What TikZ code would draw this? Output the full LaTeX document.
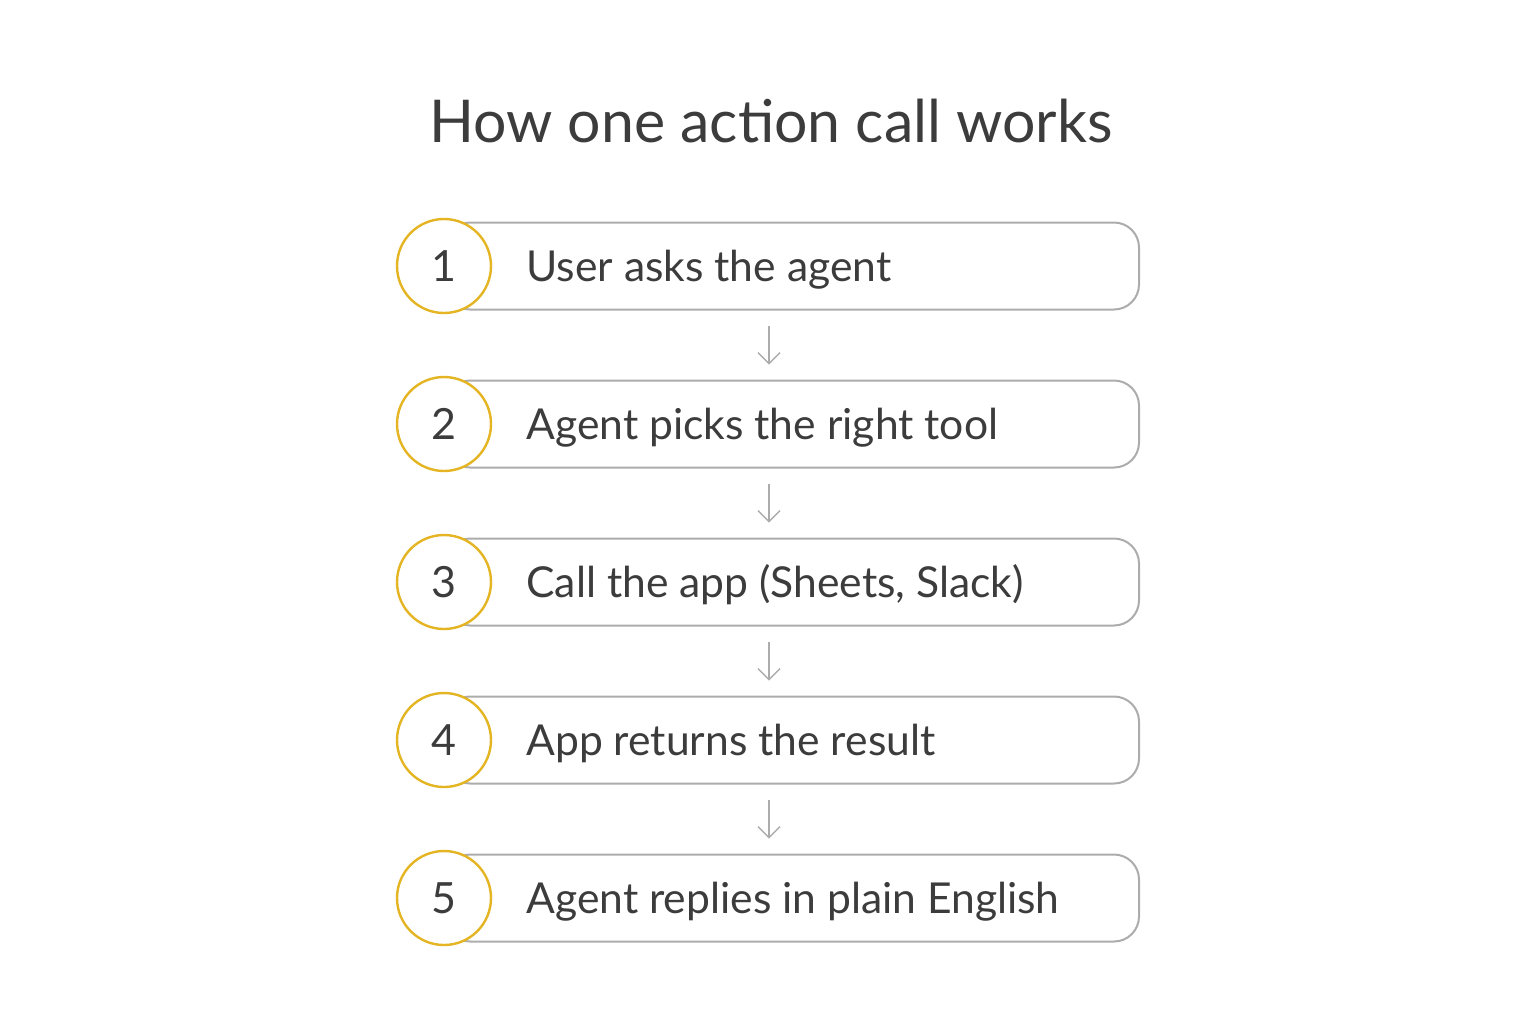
\documentclass[tikz,border=0pt]{standalone}
\usepackage{fontspec}
\setmainfont{Lato}
\usetikzlibrary{arrows.meta, positioning, calc}
\definecolor{StepGold}{RGB}{228,180,34}
\definecolor{StepGrey}{RGB}{172,172,172}
\definecolor{StepText}{RGB}{60,60,60}

\begin{document}
\begin{tikzpicture}[x=0.5pt, y=-0.5pt,
    >={Straight Barb[length=5.5pt, width=11pt]},
    stepbox/.style={draw=StepGrey, line width=1pt, rounded corners=12.5pt, fill=white,
        anchor=west, minimum height=43.5pt, minimum width=347pt},
    steplabel/.style={anchor=base west, inner sep=0pt, font=\fontsize{21.3}{24}\selectfont, text=StepText},
    stepnum/.style={draw=StepGold, line width=1.2pt, circle, fill=white, minimum size=47pt,
        inner sep=0pt, font=\fontsize{21.5}{24}\selectfont, text=StepText},
    steparrow/.style={->, draw=StepGrey, line width=0.7pt, shorten <=7.5pt, shorten >=7.5pt}]
\useasboundingbox (0,0) rectangle (1536,1024);
\node[anchor=base, font=\fontsize{29.5}{34}\selectfont, text=StepText] (title) at (771,142) {How one action call works};
\foreach \x/\txt in {1/User asks the agent, 2/Agent picks the right tool, 3/{Call the app (Sheets, Slack)}, 4/App returns the result, 5/Agent replies in plain English}
{
    \node[stepbox] (B\x) at (444, 108+158*\x) {};
    \node[steplabel] (T\x) at ($(B\x.west)+(82,15.5)$) {\txt};
    \node[stepnum] (N\x) at (B\x.west) {\x};
}
\foreach \x in {1,...,4}
{
    \pgfmathtruncatemacro{\z}{\x + 1};
    \draw[steparrow] ([xshift=-11.5pt]B\x.south) -- ([xshift=-11.5pt]B\z.north);
}
\end{tikzpicture}
\end{document}
